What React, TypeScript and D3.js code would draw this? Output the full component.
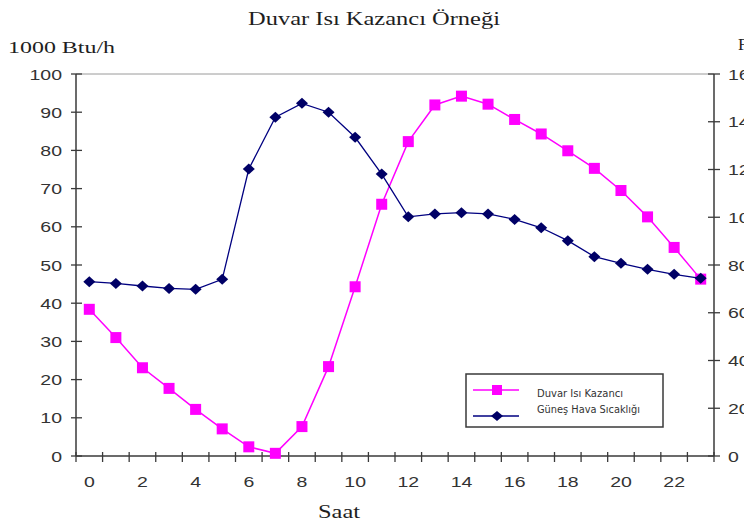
import React from "react";
import * as d3 from "d3";

const hours = d3.range(0, 24);
const wallGain = [38.4, 31.0, 23.1, 17.7, 12.2, 7.1, 2.4, 0.7, 7.7, 23.4, 44.3, 65.9, 82.3, 91.9, 94.2, 92.1, 88.1, 84.3, 79.9, 75.3, 69.5, 62.6, 54.6, 46.3];
const solAirTemp = [73.0, 72.3, 71.2, 70.2, 69.8, 74.0, 120.2, 141.9, 147.7, 144.0, 133.5, 118.1, 100.2, 101.4, 101.9, 101.4, 99.1, 95.6, 90.2, 83.5, 80.7, 78.2, 76.1, 74.4];
const leftTicks = d3.range(0, 101, 10);
const rightTicks = d3.range(0, 161, 20);
const xTickLabels = d3.range(0, 23, 2);
const seriesNames = ["Duvar Isı Kazancı", "Güneş Hava Sıcaklığı"];

const W = 744, H = 526;
const L = 76, R = 714, T = 74, B = 456;
const PINK = "#ff00ff";
const NAVY = "#000080";
const DARK = "#000066";
const AX = "#3a3a3a";
const SANS = "'Liberation Sans', Arial, sans-serif";
const SERIF = "'Liberation Serif', 'Times New Roman', serif";

function ST({ x, y, anchor = "start", size, family, sx = 1.3, fill = "#222", children }: any) {
  return (
    <text transform={`translate(${x},${y}) scale(${sx},1)`} textAnchor={anchor} fontSize={size} fontFamily={family} fill={fill}>
      {children}
    </text>
  );
}

export default function App() {
  const x = d3.scaleBand<number>().domain(hours).range([L, R]).padding(0);
  const bw = x.bandwidth();
  const cx = (h: number) => (x(h) as number) + bw / 2;
  const yL = d3.scaleLinear().domain([0, 100]).range([B, T]);
  const yR = d3.scaleLinear().domain([0, 160]).range([B, T]);

  const linePink = d3.line<number>().x((_, i) => cx(hours[i])).y((d) => yL(d));
  const lineBlue = d3.line<number>().x((_, i) => cx(hours[i])).y((d) => yR(d));

  const sq = 11;
  const diamond = (px: number, py: number) => `M${px},${py - 5.5} L${px + 6},${py} L${px},${py + 5.5} L${px - 6},${py} Z`;

  const boundaries = d3.range(0, 25).map((i) => L + i * bw);

  return (
    <svg width={W} height={H} style={{ position: "absolute", left: 0, top: 0, background: "#fff" }}>
      {/* title */}
      <text x={248} y={25} fontSize={19} fontFamily={SERIF} fill="#1e1e1e" textLength={252} lengthAdjust="spacingAndGlyphs">Duvar Isı Kazancı Örneği</text>
      <text x={8} y={53} fontSize={16} fontFamily={SERIF} fill="#1e1e1e" textLength={107} lengthAdjust="spacingAndGlyphs">1000 Btu/h</text>
      <text x={738} y={50} fontSize={17} fontFamily={SERIF} fill="#1e1e1e">F</text>
      <text x={318} y={518} fontSize={19} fontFamily={SERIF} fill="#1e1e1e" textLength={42} lengthAdjust="spacingAndGlyphs">Saat</text>

      {/* frame */}
      <line x1={L} x2={R} y1={T} y2={T} stroke="#9a9a9a" strokeWidth={1} />
      <line x1={L} x2={L} y1={T} y2={B} stroke={AX} strokeWidth={1.5} />
      <line x1={R} x2={R} y1={T} y2={B} stroke={AX} strokeWidth={1.5} />
      <line x1={L} x2={R} y1={B} y2={B} stroke={AX} strokeWidth={1.5} />

      {/* left axis */}
      {leftTicks.map((t) => (
        <g key={"l" + t}>
          <line x1={L - 5} x2={L + 6} y1={yL(t)} y2={yL(t)} stroke={AX} strokeWidth={1.3} />
          <ST x={62} y={yL(t) + 5.5} anchor="end" size={15} family={SANS} fill="#333">{t}</ST>
        </g>
      ))}
      {/* right axis */}
      {rightTicks.map((t) => (
        <g key={"r" + t}>
          <line x1={R - 6} x2={R + 6} y1={yR(t)} y2={yR(t)} stroke={AX} strokeWidth={1.3} />
          <ST x={728} y={yR(t) + 5.5} anchor="start" size={15} family={SANS} fill="#333">{t}</ST>
        </g>
      ))}
      {/* x axis */}
      {boundaries.map((bx, i) => (
        <line key={"x" + i} x1={bx} x2={bx} y1={B - 4} y2={B + 6} stroke={AX} strokeWidth={1.3} />
      ))}
      {xTickLabels.map((h) => (
        <ST key={"xl" + h} x={cx(h)} y={487} anchor="middle" size={15} family={SANS} fill="#333">{h}</ST>
      ))}

      {/* series */}
      <path d={linePink(wallGain) || ""} fill="none" stroke={PINK} strokeWidth={1.5} />
      {wallGain.map((v, i) => (
        <rect key={"p" + i} x={cx(hours[i]) - sq / 2} y={yL(v) - sq / 2} width={sq} height={sq} fill={PINK} />
      ))}
      <path d={lineBlue(solAirTemp) || ""} fill="none" stroke={NAVY} strokeWidth={1.3} />
      {solAirTemp.map((v, i) => (
        <path key={"b" + i} d={diamond(cx(hours[i]), yR(v))} fill={DARK} />
      ))}

      {/* legend */}
      <rect x={466} y={374} width={197} height={53} fill="#fff" stroke={AX} strokeWidth={1.5} />
      <line x1={473} x2={519} y1={390} y2={390} stroke={PINK} strokeWidth={1.5} />
      <rect x={497 - 5} y={390 - 5} width={10} height={10} fill={PINK} />
      <line x1={473} x2={519} y1={416} y2={416} stroke={NAVY} strokeWidth={1.5} />
      <path d={`M497,${416 - 5} L${503},416 L497,${416 + 5} L${491},416 Z`} fill={DARK} />
      <text x={537} y={397} fontSize={10} fontFamily="'DejaVu Sans', Tahoma, sans-serif" fill="#333" textLength={86} lengthAdjust="spacingAndGlyphs">{seriesNames[0]}</text>
      <text x={537} y={413} fontSize={10} fontFamily="'DejaVu Sans', Tahoma, sans-serif" fill="#333" textLength={103} lengthAdjust="spacingAndGlyphs">{seriesNames[1]}</text>
    </svg>
  );
}
